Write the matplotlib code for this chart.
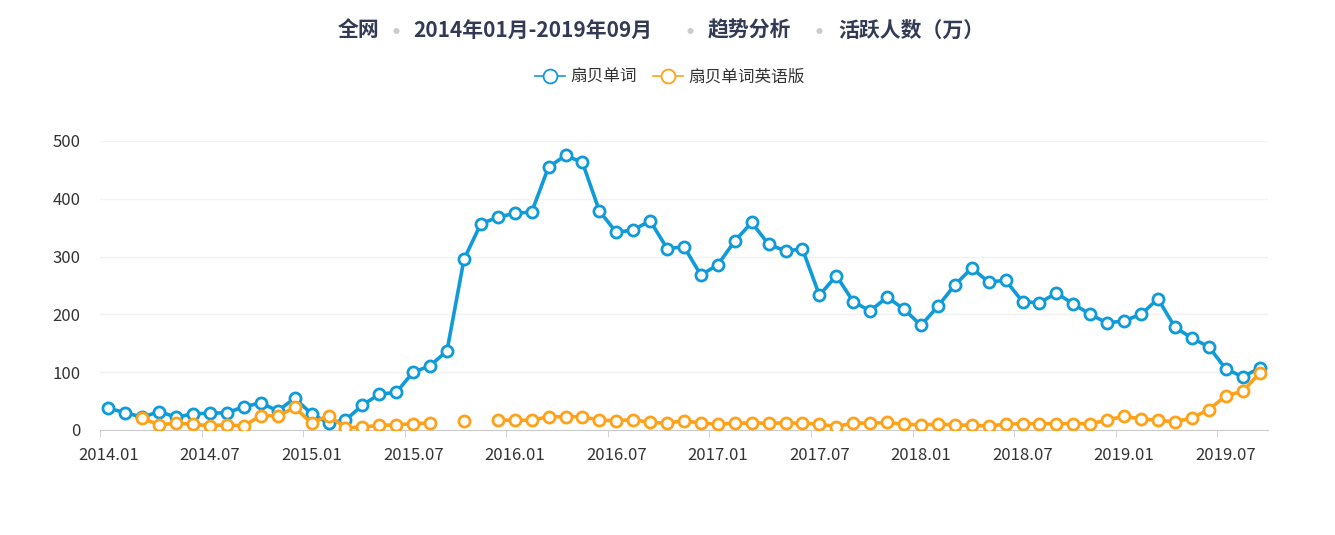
import matplotlib
matplotlib.use("Agg")
import matplotlib.pyplot as plt
from matplotlib.lines import Line2D
import numpy as np

plt.rcParams['font.family'] = ['Noto Sans CJK SC', 'DejaVu Sans']

months = [f"{y}.{m:02d}" for y in range(2014, 2020) for m in range(1, 13)][:69]
blue = [37.5,30,22,32,22,28,29,30,40,47,33,55,
        28,12,17,43,62,65,100,111,137,295,357,368,
        375,377,455,475,463,379,342,346,362,314,317,268,
        286,327,359,321,310,313,233,267,222,206,230,209,
        181,214,251,280,256,259,222,220,237,218,200,185,
        189,200,227,178,159,144,106,92,107]
N = np.nan
orange = [N,N,20,9,12,10,7.5,9,7,25,24,39,
          12,25,4,5,8,9,11,12,N,16,N,17,
          17,17,23,23,23,17,16,18,13,12,16,12,
          10,12,12,12,12,12,10,6,12,12,13,10,
          9,10,9,8,7,10,11,11,11,11,11,17,
          24,19,17,14,21,35,59,67,98]
names = ["扇贝单词", "扇贝单词英语版"]
yticks = [0, 100, 200, 300, 400, 500]

fig = plt.figure(figsize=(13.35, 5.35), dpi=100)
ax = fig.add_axes([100/1335, 1-430/535, 1168/1335, 289/535])
x = np.arange(len(months))
c1, c2 = '#0f9ad9', '#ffa21a'
ax.plot(x, blue, color=c1, lw=2.6, marker='o', ms=8, mfc='white', mec=c1, mew=2, zorder=3)
ax.plot(x, orange, color=c2, lw=2.6, marker='o', ms=8, mfc='white', mec=c2, mew=2, zorder=3)
ax.set_xlim(-0.5, len(months)-0.5)
ax.set_ylim(0, 500)
ax.set_yticks(yticks)
ax.set_yticklabels([str(v) for v in yticks])
ax.grid(axis='y', color='#f2f2f2', lw=1)
ax.set_axisbelow(True)
for s in ['top', 'right', 'left']:
    ax.spines[s].set_visible(False)
ax.spines['bottom'].set_color('#cccccc')
ax.set_xticks(x[::6])
ax.set_xticklabels(months[::6])
ax.set_xticks(np.arange(-0.5, len(months), 6), minor=True)
ax.tick_params(axis='x', which='major', length=0, pad=12, labelsize=12, labelcolor='#333333')
ax.tick_params(axis='x', which='minor', length=5, color='#cccccc')
ax.tick_params(axis='y', length=0, labelsize=12, labelcolor='#333333', pad=14)

tc = '#333a55'
for txt, xp in [("全网", 338), ("2014年01月-2019年09月", 413), ("趋势分析", 708), ("活跃人数（万）", 838)]:
    fig.text(xp/1335, 1-30/535, txt, ha='left', va='center', fontsize=15, fontweight='bold', color=tc)
for xp in [396, 690, 819]:
    fig.text(xp/1335, 1-32/535, "●", ha='center', va='center', fontsize=5, color='#cccccc')

handles = [Line2D([], [], color=c, lw=1.2, marker='o', ms=10, mfc='white', mec=c, mew=1.3) for c in (c1, c2)]
fig.legend(handles, names, loc='center', bbox_to_anchor=(670/1335, 1-77/535), ncol=2, frameon=False,
           fontsize=12, handlelength=1.8, columnspacing=1.0, handletextpad=0.3, labelcolor='#333333')
fig.savefig("out.png", dpi=100, facecolor='white')
